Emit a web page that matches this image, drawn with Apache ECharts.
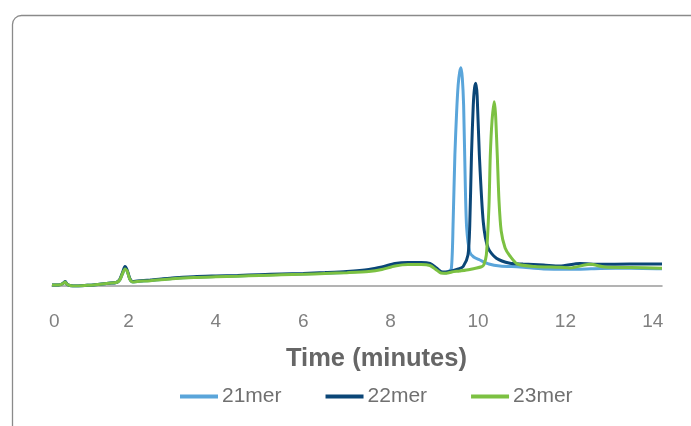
<!DOCTYPE html>
<html>
<head>
<meta charset="utf-8">
<script src="https://cdn.jsdelivr.net/npm/echarts@6/dist/echarts.min.js"></script>
<style>
  html, body { margin: 0; padding: 0; background: #fff; }
  #chart { width: 691px; height: 426px; }
</style>
</head>
<body>
<div id="chart"></div>
<script>
// ---- Data (time in minutes, absorbance in arbitrary units) ----
const seriesNames = ['21mer', '22mer', '23mer'];

const t21 = [0.25, 0.40, 0.50, 0.55, 0.60, 0.68, 0.80, 1.00, 1.20, 1.35, 1.55, 1.72, 1.80, 1.86, 1.92, 1.97, 2.03, 2.10, 2.20, 2.50, 3.00, 3.50, 4.00, 4.50, 5.00, 5.50, 6.00, 6.50, 7.00, 7.50, 7.80, 8.10, 8.40, 8.70, 8.90, 9.05, 9.15, 9.24, 9.31, 9.39, 9.43, 9.47, 9.51, 9.545, 9.58, 9.61, 9.64, 9.67, 9.71, 9.74, 9.81, 9.90, 10.04, 10.25, 10.50, 10.96, 11.50, 12.00, 12.30, 12.80, 13.50, 14.21];
const v21 = [1.0, 1.0, 2.5, 4.5, 1.5, 0.3, 0.0, 0.5, 1.0, 1.8, 2.8, 3.5, 6, 12, 17, 15, 7, 4, 4.5, 5.5, 7.5, 8.8, 9.5, 10, 10.8, 11.5, 12, 12.8, 13.8, 15.5, 18, 21, 22.5, 22.5, 21.5, 17, 14, 13, 14, 17.7, 64, 131, 174, 201, 214, 218.3, 208, 181, 98, 58, 34, 29, 26, 22, 20, 19, 17, 16.8, 16.7, 17.5, 17.7, 17.2];

const t22 = [0.25, 0.40, 0.50, 0.55, 0.60, 0.68, 0.80, 1.00, 1.20, 1.35, 1.55, 1.72, 1.80, 1.86, 1.92, 1.97, 2.03, 2.10, 2.20, 2.50, 3.00, 3.50, 4.00, 4.50, 5.00, 5.50, 6.00, 6.50, 7.00, 7.50, 7.80, 8.10, 8.40, 8.70, 8.90, 9.05, 9.15, 9.25, 9.35, 9.55, 9.66, 9.77, 9.81, 9.85, 9.89, 9.92, 9.95, 9.98, 10.03, 10.12, 10.23, 10.42, 10.73, 11.03, 11.50, 11.87, 12.33, 12.79, 13.47, 14.21];
const v22 = [1.0, 1.0, 2.5, 4.5, 1.5, 0.3, 0.0, 0.5, 1.0, 1.8, 2.8, 3.5, 6.5, 13, 19.5, 16, 7.5, 4.5, 5, 6, 8, 9.3, 10, 10.6, 11.3, 12, 12.6, 13.5, 14.6, 16.5, 19, 22.5, 23.5, 23.5, 22.5, 18, 14.5, 14, 14.5, 17, 19.5, 31, 60, 131, 180, 198, 202.7, 190, 131, 64, 38, 27.7, 22.7, 22, 21, 20, 22.5, 21.7, 22, 22];

const t23 = [0.25, 0.40, 0.50, 0.55, 0.60, 0.68, 0.80, 1.00, 1.20, 1.35, 1.55, 1.72, 1.80, 1.86, 1.92, 1.97, 2.03, 2.10, 2.20, 2.50, 3.00, 3.50, 4.00, 4.50, 5.00, 5.50, 6.00, 6.50, 7.00, 7.50, 7.80, 8.10, 8.40, 8.70, 8.90, 9.05, 9.15, 9.28, 9.40, 9.58, 9.81, 10.08, 10.13, 10.19, 10.25, 10.28, 10.32, 10.37, 10.40, 10.44, 10.48, 10.53, 10.62, 10.73, 10.90, 11.30, 11.87, 12.10, 12.56, 12.90, 13.50, 14.21];
const v23 = [1.0, 1.0, 2.5, 4.0, 1.5, 0.3, 0.0, 0.5, 1.0, 1.8, 2.8, 3.5, 6, 12, 17, 15, 7, 4, 4.5, 5.3, 7.2, 8.5, 9.2, 9.8, 10.5, 11.2, 11.7, 12.5, 13.3, 14.5, 16.5, 20, 21.5, 21.5, 20.5, 16, 13, 12.7, 14, 15, 16.5, 19.3, 21, 31, 80, 130, 165, 184.3, 172, 131, 85, 55, 38, 30, 22, 19.5, 18.7, 18, 21.7, 19, 18.5, 17.8];

// x-axis tick labels and where they sit on the time scale
const tickPositions = [0.3, 2, 4, 6, 8, 10, 12, 14];
const tickLabels = ['0', '2', '4', '6', '8', '10', '12', '14'];

const axisTitle = 'Time (minutes)';
const colors = ['#5aa5da', '#0b4677', '#7cc142'];

// ---- Build chart ----
function pairs(t, v) { return t.map((x, i) => [x, v[i]]); }
const datasets = [pairs(t21, v21), pairs(t22, v22), pairs(t23, v23)];

const FONT = "'Liberation Sans', Arial, sans-serif";
const chart = echarts.init(document.getElementById('chart'), null, { renderer: 'canvas' });

chart.setOption({
  animation: false,
  backgroundColor: '#ffffff',
  color: colors,
  graphic: [{
    type: 'rect',
    shape: { x: 12.5, y: 15.5, width: 720, height: 440, r: 9 },
    style: { fill: 'none', stroke: '#8a8a8a', lineWidth: 1.3 },
    silent: true
  }],
  title: {
    text: axisTitle,
    left: 286,
    top: 346,
    padding: 0,
    textStyle: { fontFamily: FONT, fontSize: 25.5, fontWeight: 'bold', color: '#666666' }
  },
  legend: {
    data: seriesNames,
    left: 180,
    top: 386,
    padding: 0,
    icon: 'rect',
    itemWidth: 38,
    itemHeight: 4,
    itemGap: 44,
    textStyle: { fontFamily: FONT, fontSize: 21, color: '#707070', padding: [0, 0, 0, -1] }
  },
  grid: { left: 52, right: 29, top: 36, bottom: 140, containLabel: false },
  xAxis: {
    type: 'value',
    min: 0.25,
    max: 14.21,
    axisLine: { show: true, lineStyle: { color: '#9a9a9a', width: 1.5 } },
    axisTick: { show: false },
    splitLine: { show: false },
    axisLabel: {
      customValues: tickPositions,
      formatter: function (v) {
        const i = tickPositions.findIndex(p => Math.abs(p - v) < 1e-6);
        return i >= 0 ? tickLabels[i] : '';
      },
      margin: 26,
      fontFamily: FONT,
      fontSize: 19,
      color: '#808080'
    }
  },
  yAxis: {
    type: 'value',
    min: 0,
    max: 250,
    show: false,
    splitLine: { show: false }
  },
  series: seriesNames.map((name, i) => ({
    name: name,
    type: 'line',
    data: datasets[i],
    showSymbol: false,
    symbol: 'none',
    smooth: 0.25,
    lineStyle: { width: 3, color: colors[i] },
    itemStyle: { color: colors[i] },
    z: 2 + i
  }))
});
</script>
</body>
</html>
